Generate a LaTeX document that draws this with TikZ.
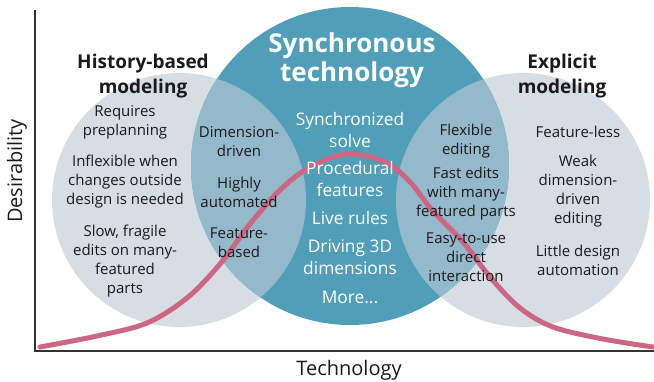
\documentclass[tikz,border=0pt]{standalone}
\usepackage{fontspec}
\setmainfont{Open Sans}

\definecolor{tealc}{RGB}{80,158,183}
\definecolor{greyc}{RGB}{214,221,227}
\definecolor{mixc}{RGB}{148,185,203}
\definecolor{curvec}{RGB}{204,102,131}
\definecolor{inkc}{RGB}{26,26,26}
\definecolor{axisc}{RGB}{51,51,51}

\tikzset{every picture/.style={line width=0.75pt}}
\tikzset{
  body/.style={align=center,inner sep=0.75pt,text=inkc,font=\fontsize{11.25}{14.25}\selectfont},
  core/.style={align=center,inner sep=0.75pt,text=white,font=\fontsize{13}{16.5}\selectfont},
  head/.style={align=center,inner sep=0.75pt,text=inkc,font=\bfseries\fontsize{14.25}{19}\selectfont},
  axislabel/.style={inner sep=0.75pt,text=inkc,font=\fontsize{15}{18}\selectfont},
}

\begin{document}
\begin{tikzpicture}[x=0.75pt,y=0.75pt,yscale=-1,xscale=1]
    \useasboundingbox (0,0) rectangle (654,382);

    %Shape: Circle (history-based)
    \fill [greyc] (179,200) circle (127);
    %Shape: Circle (explicit)
    \fill [greyc] (523,200) circle (127);
    %Shape: Circle (synchronous)
    \fill [tealc] (350,166) circle (159);
    %Overlaps
    \begin{scope}
      \clip (350,166) circle (159);
      \fill [mixc] (179,200) circle (127);
      \fill [mixc] (523,200) circle (127);
    \end{scope}

    %Axes
    \coordinate (ytop) at (35,10);
    \coordinate (orig) at (35,351);
    \coordinate (xend) at (654,351);
    \draw [axisc, line width=1.5pt] (ytop) -- (orig) -- (xend);

    %Curve Lines
    \draw [curvec, line width=3.75pt, line cap=round] plot [smooth, tension=0.55] coordinates {
      (40,347) (97,336) (147,323) (187,298) (220,264) (250,224) (280,190) (310,167)
      (347,154) (385,162) (410,182) (432,210) (463,242) (490,277) (520,308) (553,327)
      (603,339) (653,347)};

    % Text Node
    \node [axislabel, rotate=90] (desir) at (17,171) {Desirability};
    % Text Node
    \node [axislabel] (techn) at (349,370) {Technology};

    % Text Node
    \node [head] (hist) at (143,76) {History-based\\modeling};
    % Text Node
    \node [head] (expl) at (562,76) {Explicit\\modeling};
    % Text Node
    \node [head, text=white, font=\bfseries\fontsize{19.5}{22}\selectfont] (sync) at (352,60) {Synchronous\\technology};

    % Text Node
    \node [body] (hist1) at (125,122.5) {Requires\\preplanning};
    % Text Node
    \node [body] (hist2) at (125,182) {Inflexible when\\changes outside\\design is needed};
    % Text Node
    \node [body] (hist3) at (125,261) {Slow, fragile\\edits on many-\\featured\\parts};

    % Text Node
    \node [body] (both1) at (239,141.5) {Dimension-\\driven};
    % Text Node
    \node [body] (both2) at (239,192) {Highly\\automated};
    % Text Node
    \node [body] (both3) at (239,242.5) {Feature-\\based};

    % Text Node
    \node [core] (sync1) at (350,129.5) {Synchronized\\solve};
    % Text Node
    \node [core] (sync2) at (350,179) {Procedural\\features};
    % Text Node
    \node [core] (sync3) at (350,218) {Live rules};
    % Text Node
    \node [core] (sync4) at (350,257.5) {Driving 3D\\dimensions};
    % Text Node
    \node [core] (sync5) at (350,297) {More...};

    % Text Node
    \node [body] (flex1) at (466,141.5) {Flexible\\editing};
    % Text Node
    \node [body] (flex2) at (466,193.5) {Fast edits\\with many-\\featured parts};
    % Text Node
    \node [body] (flex3) at (466,257) {Easy-to-use\\direct\\interaction};

    % Text Node
    \node [body] (expl1) at (578,132) {Feature-less};
    % Text Node
    \node [body] (expl2) at (578,191) {Weak\\dimension-\\driven\\editing};
    % Text Node
    \node [body] (expl3) at (578,260.5) {Little design\\automation};

\end{tikzpicture}
\end{document}
